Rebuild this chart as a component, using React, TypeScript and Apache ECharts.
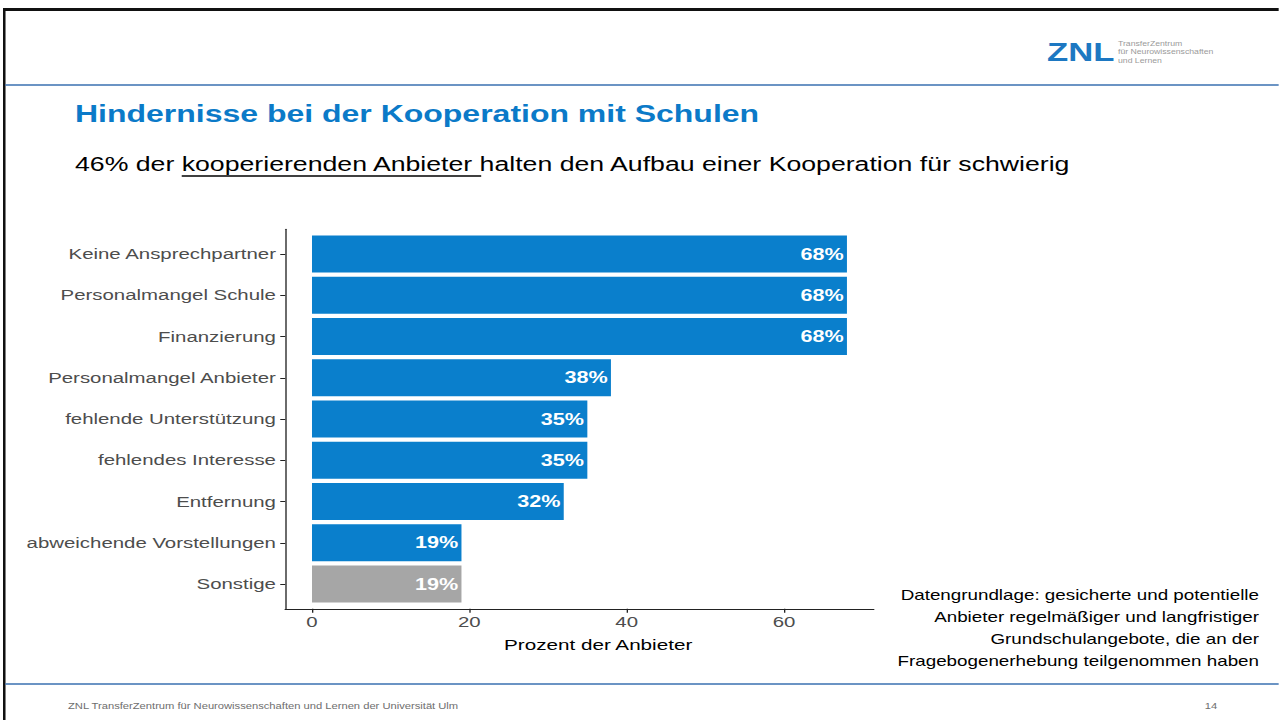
import React, { useEffect, useRef } from "react";
import * as echarts from "echarts";

// The slide is shown horizontally stretched; the chart is drawn at its native width and stretched the same way.
const PAGE_W = 1279;
const BASE_W = 959.25;
const S = PAGE_W / BASE_W;
const sx = (x: number) => x / S;

const categories = [
  "Keine Ansprechpartner",
  "Personalmangel Schule",
  "Finanzierung",
  "Personalmangel Anbieter",
  "fehlende Unterstützung",
  "fehlendes Interesse",
  "Entfernung",
  "abweichende Vorstellungen",
  "Sonstige",
];
const values = [68, 68, 68, 38, 35, 35, 32, 19, 19];
const otherCategory = "Sonstige";
const xTicks = [0, 20, 40, 60];
const xAxisTitle = "Prozent der Anbieter";

const titleText = "Hindernisse bei der Kooperation mit Schulen";
const subtitleBefore = "46% der ";
const subtitleUnderlined = "kooperierenden Anbieter ";
const subtitleAfter = "halten den Aufbau einer Kooperation für schwierig";
const noteLines = [
  "Datengrundlage: gesicherte und potentielle",
  "Anbieter regelmäßiger und langfristiger",
  "Grundschulangebote, die an der",
  "Fragebogenerhebung teilgenommen haben",
];
const footerText = "ZNL TransferZentrum für Neurowissenschaften und Lernen der Universität Ulm";
const pageNumber = "14";
const logoMark = "ZNL";
const logoLines = ["TransferZentrum", "für Neurowissenschaften", "und Lernen"];

const FONT = '"Liberation Sans", Arial, Helvetica, sans-serif';
const BLUE = "#0a7fcc";
const GREY = "#a6a6a6";

function measure(text: string, size: number, weight = "normal"): number {
  const c = document.createElement("canvas").getContext("2d");
  if (!c) return text.length * size * 0.5;
  c.font = `${weight} ${size}px "Liberation Sans", Arial, sans-serif`;
  return c.measureText(text).width;
}

export default function App() {
  const ref = useRef<HTMLDivElement>(null);

  useEffect(() => {
    if (!ref.current) return;
    const chart = echarts.init(ref.current, undefined, { renderer: "svg" });

    const subX = sx(75);
    const subSize = 20;
    const ulStart = subX + measure(subtitleBefore, subSize);
    const ulEnd = ulStart + measure(subtitleUnderlined, subSize);

    const gridLeft = sx(285.25);
    const gridWidth = sx(588.45);
    const band = 41.25;

    const option: any = {
      animation: false,
      backgroundColor: "#ffffff",
      textStyle: { fontFamily: FONT },
      grid: [
        { left: gridLeft, width: gridWidth, top: 254 - band / 2, height: band * categories.length },
        { left: gridLeft, width: gridWidth, top: 229.25, height: 379.5 },
      ],
      xAxis: [
        { gridIndex: 0, type: "value", min: -3.4, max: 71.4, show: false },
        {
          gridIndex: 1,
          type: "value",
          min: -3.4,
          max: 71.4,
          axisLine: { show: true, onZero: false, lineStyle: { color: "#222", width: 1.2 } },
          axisTick: { show: true, customValues: xTicks, length: 4, lineStyle: { color: "#222", width: 1 } },
          axisLabel: { customValues: xTicks, color: "#4d4d4d", fontSize: 15.3, margin: 6, fontFamily: FONT },
          splitLine: { show: false },
          name: xAxisTitle,
          nameLocation: "middle",
          nameGap: 28,
          nameTextStyle: { color: "#000", fontSize: 15.5, fontFamily: FONT, padding: [0, 0, 0, 28] },
        },
      ],
      yAxis: [
        {
          gridIndex: 0,
          type: "category",
          data: categories,
          inverse: true,
          axisLine: { show: false, onZero: false },
          axisTick: { show: true, alignWithLabel: true, length: 3.75, lineStyle: { color: "#222", width: 1 } },
          axisLabel: { color: "#4d4d4d", fontSize: 15.3, margin: 7, fontFamily: FONT },
          splitLine: { show: false },
        },
        {
          gridIndex: 1,
          type: "value",
          min: 0,
          max: 1,
          axisLine: { show: true, onZero: false, lineStyle: { color: "#222", width: 1 } },
          axisTick: { show: false },
          axisLabel: { show: false },
          splitLine: { show: false },
        },
      ],
      series: [
        {
          type: "bar",
          xAxisIndex: 0,
          yAxisIndex: 0,
          data: values,
          barWidth: 37,
          itemStyle: {
            color: (p: any) => (p.name === otherCategory ? GREY : BLUE),
          },
          label: {
            show: true,
            position: "insideRight",
            distance: 2.5,
            formatter: "{c}%",
            color: "#ffffff",
            fontWeight: "bold",
            fontSize: 16.2,
            fontFamily: FONT,
          },
        },
      ],
      graphic: [
        // slide frame
        { type: "rect", shape: { x: 2.25, y: 8, width: BASE_W, height: 3 }, style: { fill: "#111" } },
        { type: "rect", shape: { x: 2.25, y: 8, width: 1.9, height: 720 }, style: { fill: "#111" } },
        { type: "rect", shape: { x: 4, y: 84.3, width: BASE_W, height: 1.5 }, style: { fill: "#3a70b0" } },
        { type: "rect", shape: { x: 4, y: 683.3, width: BASE_W, height: 1.5 }, style: { fill: "#3a70b0" } },
        // logo
        {
          type: "text",
          x: sx(1047),
          y: 51.7,
          style: { text: logoMark, fontSize: 26, fontWeight: "bold", fontFamily: FONT, fill: "#1d78c2", align: "left", verticalAlign: "middle" },
        },
        ...logoLines.map((t, i) => ({
          type: "text",
          x: sx(1118),
          y: 43.5 + i * 8.5,
          style: { text: t, fontSize: 6.5, fontFamily: FONT, fill: "#9a9a9a", align: "left", verticalAlign: "middle" },
        })),
        // title and subtitle
        {
          type: "text",
          x: sx(75),
          y: 113.5,
          style: { text: titleText, fontSize: 24, fontWeight: "bold", fontFamily: FONT, fill: "#0b7ac8", align: "left", verticalAlign: "middle" },
        },
        {
          type: "text",
          x: subX,
          y: 164,
          style: {
            text: subtitleBefore + subtitleUnderlined + subtitleAfter,
            fontSize: subSize,
            fontFamily: FONT,
            fill: "#000",
            align: "left",
            verticalAlign: "middle",
          },
        },
        { type: "rect", shape: { x: ulStart, y: 175.3, width: ulEnd - ulStart, height: 1.4 }, style: { fill: "#000" } },
        // data note
        ...noteLines.map((t, i) => ({
          type: "text",
          x: sx(1259),
          y: 595 + i * 22,
          style: { text: t, fontSize: 14.1, fontFamily: FONT, fill: "#000", align: "right", verticalAlign: "middle" },
        })),
        // footer
        {
          type: "text",
          x: sx(68),
          y: 706,
          style: { text: footerText, fontSize: 8.4, fontFamily: FONT, fill: "#6e6e6e", align: "left", verticalAlign: "middle" },
        },
        {
          type: "text",
          x: sx(1211),
          y: 706,
          style: { text: pageNumber, fontSize: 8.4, fontFamily: FONT, fill: "#6e6e6e", align: "center", verticalAlign: "middle" },
        },
      ],
    };

    chart.setOption(option);
    return () => chart.dispose();
  }, []);

  return (
    <div
      ref={ref}
      style={{
        position: "absolute",
        left: 0,
        top: 0,
        width: BASE_W,
        height: 720,
        transform: `scaleX(${S})`,
        transformOrigin: "0 0",
        background: "#fff",
      }}
    />
  );
}
